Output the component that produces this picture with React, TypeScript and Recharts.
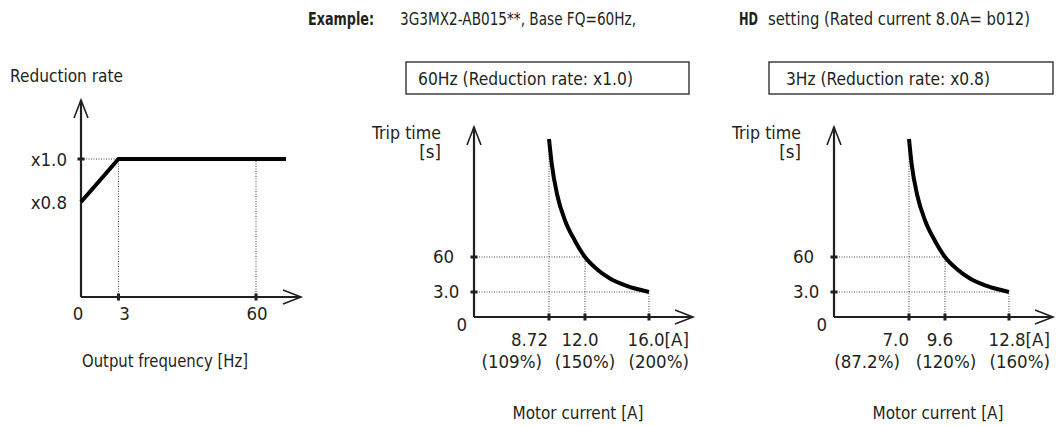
import React from 'react';
import { LineChart, Line, XAxis, YAxis, ReferenceLine } from 'recharts';

// ---------------- data ----------------
const freqHz = [0, 3, 60, 70];
const reductionRate = [0.8, 1.0, 1.0, 1.0];
const freqTicks = [0, 3, 60];
const freqTickLabels = ['0', '3', '60'];
const rateTicks = [0.8, 1.0];
const rateTickLabels = ['x0.8', 'x1.0'];

const current60Hz = [8.72, 8.97, 9.48, 10.18, 11.09, 12.0, 12.73, 13.56, 14.61, 16.0];
const tripTime60Hz = [913, 732, 505, 324, 176, 60, 40.5, 25, 12.8, 3.0];
const current3Hz = [7.0, 7.19, 7.6, 8.16, 8.88, 9.6, 10.19, 10.85, 11.69, 12.8];
const tripTime3Hz = [913, 732, 505, 324, 176, 60, 40.5, 25, 12.8, 3.0];

const tripTicks = [0, 3, 60];
const tripTickLabels = ['0', '3.0', '60'];
const current60Ticks = [8.72, 12.0, 16.0];
const current60TickLabels = ['8.72', '12.0', '16.0[A]'];
const current60PctLabels = ['(109%)', '(150%)', '(200%)'];
const current3Ticks = [7.0, 9.6, 12.8];
const current3TickLabels = ['7.0', '9.6', '12.8[A]'];
const current3PctLabels = ['(87.2%)', '(120%)', '(160%)'];

// ---------------- style ----------------
const FONT = '"DejaVu Sans Condensed", "DejaVu Sans", sans-serif';
const INK = '#231f20';
const DOT = '#4d4d4f';
const FS = 18.5;

// schematic (not-to-scale) piecewise-linear axis scale with a d3-like interface
function schematicScale(knots: number[], fracs: number[]): any {
  let dom: number[] = [knots[0], knots[knots.length - 1]];
  let rng: number[] = [0, 1];
  const toFrac = (v: number) => {
    const n = knots.length;
    for (let i = 1; i < n; i++) {
      if (v <= knots[i] || i === n - 1) {
        const t = (v - knots[i - 1]) / (knots[i] - knots[i - 1]);
        return fracs[i - 1] + t * (fracs[i] - fracs[i - 1]);
      }
    }
    return 1;
  };
  const scale: any = (v: number) => rng[0] + toFrac(Number(v)) * (rng[1] - rng[0]);
  scale.domain = (d?: any) => {
    if (d === undefined) return dom.slice();
    dom = Array.from(d);
    return scale;
  };
  scale.range = (r?: any) => {
    if (r === undefined) return rng.slice();
    rng = Array.from(r);
    return scale;
  };
  scale.copy = () => schematicScale(knots, fracs).domain(dom).range(rng);
  scale.ticks = () => knots.slice();
  scale.tickFormat = () => (v: any) => String(v);
  scale.invert = (px: number) => {
    const f = (px - rng[0]) / (rng[1] - rng[0]);
    for (let i = 1; i < fracs.length; i++) {
      if (f <= fracs[i] || i === fracs.length - 1) {
        const t = (f - fracs[i - 1]) / (fracs[i] - fracs[i - 1]);
        return knots[i - 1] + t * (knots[i] - knots[i - 1]);
      }
    }
    return knots[knots.length - 1];
  };
  return scale;
}

const T = (x: number, y: number, s: string, anchor: string = 'start', extra: any = {}) => (
  <text x={x} y={y} textAnchor={anchor as any} fontFamily={FONT} fontSize={FS} fill={INK} {...extra}>
    {s}
  </text>
);
const fit = (w: number) => ({ textLength: w, lengthAdjust: 'spacingAndGlyphs' });

const AxisArrow = (p: any) => {
  const { x1, y1, x2, y2 } = p;
  const dx = x2 - x1;
  const dy = y2 - y1;
  const len = Math.hypot(dx, dy) || 1;
  const ux = dx / len;
  const uy = dy / len;
  const L = 18;
  const W = 7;
  const bx = x2 - ux * L;
  const by = y2 - uy * L;
  const nx = -uy;
  const ny = ux;
  return (
    <g>
      <line x1={x1} y1={y1} x2={x2} y2={y2} stroke={INK} strokeWidth={2.2} />
      <polyline
        points={`${bx + nx * W},${by + ny * W} ${x2},${y2} ${bx - nx * W},${by - ny * W}`}
        fill="none"
        stroke={INK}
        strokeWidth={1.6}
      />
    </g>
  );
};

const dotted = { stroke: DOT, strokeWidth: 1, strokeDasharray: '1 1.5', ifOverflow: 'visible' as const };

// ---------------- left chart ----------------
function ReductionChart() {
  const data = freqHz.map((f, i) => ({ f, r: reductionRate[i] }));
  const xScale = schematicScale([0, 3, 60, 75], [0, 0.1705, 0.7955, 1]);
  const yScale = schematicScale([0, 0.8, 1.0, 1.3], [0, 0.4822, 0.7005, 1]);
  const xDx = [-3, 6, 1];
  return (
    <div style={{ position: 'absolute', left: 0, top: 40 }}>
      <LineChart width={330} height={386} data={data} margin={{ top: 60, right: 29, bottom: 128, left: 80 }}>
        <XAxis
          type="number"
          dataKey="f"
          domain={[0, 75]}
          scale={xScale}
          ticks={freqTicks}
          interval={0}
          axisLine={false}
          tickLine={false}
          tickSize={0}
          tickMargin={0}
          height={1}
          tick={(p: any) => {
            const i = freqTicks.indexOf(p.payload.value);
            if (i < 0) return <g />;
            return (
              <g>
                {i > 0 && <rect x={p.x - 1.5} y={p.y - 3.5} width={3} height={7} fill={INK} />}
                {T(p.x + xDx[i], p.y + 22.5, freqTickLabels[i], 'middle')}
              </g>
            );
          }}
          label={{
            content: (lp: any) =>
              T(lp.viewBox.x + 1, lp.viewBox.y + 69.5, 'Output frequency [Hz]', 'start', fit(166)),
          }}
        />
        <YAxis
          type="number"
          dataKey="r"
          domain={[0, 1.3]}
          scale={yScale}
          ticks={rateTicks}
          interval={0}
          axisLine={false}
          tickLine={false}
          tickSize={0}
          tickMargin={0}
          width={1}
          tick={(p: any) => {
            const i = rateTicks.indexOf(p.payload.value);
            if (i < 0) return <g />;
            return (
              <g>
                {i === 1 && <rect x={p.x - 3.5} y={p.y - 1.5} width={7} height={3} fill={INK} />}
                {T(p.x - 14, p.y + 6.5, rateTickLabels[i], 'end')}
              </g>
            );
          }}
          label={{
            content: (lp: any) =>
              T(lp.viewBox.x + lp.viewBox.width - 71, lp.viewBox.y - 18.5, 'Reduction rate', 'start', fit(113)),
          }}
        />
        <ReferenceLine segment={[{ x: 0, y: 1.0 }, { x: 3, y: 1.0 }]} {...dotted} />
        <ReferenceLine segment={[{ x: 3, y: 0 }, { x: 3, y: 1.0 }]} {...dotted} />
        <ReferenceLine segment={[{ x: 60, y: 0 }, { x: 60, y: 1.0 }]} {...dotted} />
        <ReferenceLine segment={[{ x: 0, y: 0 }, { x: 75, y: 0 }]} ifOverflow="visible" shape={AxisArrow} />
        <ReferenceLine segment={[{ x: 0, y: 0 }, { x: 0, y: 1.3 }]} ifOverflow="visible" shape={AxisArrow} />
        <Line type="linear" dataKey="r" stroke="#000" strokeWidth={4} dot={false} isAnimationActive={false} />
      </LineChart>
    </div>
  );
}

// ---------------- trip-time charts ----------------
type TripProps = {
  left: number;
  current: number[];
  trip: number[];
  ticks: number[];
  tickLabels: string[];
  pctLabels: string[];
  xMax: number;
  valLayout: [string, number][];
  pctLayout: [string, number][];
};

function TripChart(props: TripProps) {
  const { left, current, trip, ticks, tickLabels, pctLabels, xMax, valLayout, pctLayout } = props;
  const data = current.map((c, i) => ({ c, t: trip[i] }));
  const xScale = schematicScale([0, ticks[0], ticks[1], ticks[2], xMax], [0, 0.3425, 0.5068, 0.7991, 1]);
  const yScale = schematicScale([0, 3, 60, 1000], [0, 0.1316, 0.3158, 1]);
  const w = Math.min(350, 1064 - left);
  return (
    <div style={{ position: 'absolute', left, top: 100 }}>
      <LineChart width={w} height={326} data={data} margin={{ top: 27, right: w - 114 - 219, bottom: 108, left: 113 }}>
        <XAxis
          type="number"
          dataKey="c"
          domain={[0, xMax]}
          scale={xScale}
          ticks={ticks}
          interval={0}
          axisLine={false}
          tickLine={false}
          tickSize={0}
          tickMargin={0}
          height={1}
          tick={(p: any) => {
            const i = ticks.indexOf(p.payload.value);
            if (i < 0) return <g />;
            return (
              <g>
                <rect x={p.x - 1.5} y={p.y - 3.5} width={3} height={7} fill={INK} />
                {T(p.x + valLayout[i][1], p.y + 28.5, tickLabels[i], valLayout[i][0])}
                {T(p.x + pctLayout[i][1], p.y + 51, pctLabels[i], pctLayout[i][0])}
              </g>
            );
          }}
          label={{
            content: (lp: any) =>
              T(lp.viewBox.x + 104, lp.viewBox.y + 102, 'Motor current [A]', 'middle', fit(131)),
          }}
        />
        <YAxis
          type="number"
          dataKey="t"
          domain={[0, 1000]}
          scale={yScale}
          ticks={tripTicks}
          interval={0}
          axisLine={false}
          tickLine={false}
          tickSize={0}
          tickMargin={0}
          width={1}
          tick={(p: any) => {
            const i = tripTicks.indexOf(p.payload.value);
            if (i < 0) return <g />;
            if (i === 0) return T(p.x - 7, p.y + 13.5, tripTickLabels[i], 'end');
            return (
              <g>
                <rect x={p.x - 3.5} y={p.y - 1.5} width={7} height={3} fill={INK} />
                {T(p.x - 41, p.y + 6.5, tripTickLabels[i], 'start')}
              </g>
            );
          }}
          label={{
            content: (lp: any) => {
              const px = lp.viewBox.x + lp.viewBox.width;
              return (
                <g>
                  {T(px - 33, lp.viewBox.y + 11.5, 'Trip time', 'end', fit(69))}
                  {T(px - 33, lp.viewBox.y + 30.5, '[s]', 'end')}
                </g>
              );
            },
          }}
        />
        <ReferenceLine segment={[{ x: 0, y: tripTicks[2] }, { x: ticks[1], y: tripTicks[2] }]} {...dotted} />
        <ReferenceLine segment={[{ x: 0, y: tripTicks[1] }, { x: ticks[2], y: tripTicks[1] }]} {...dotted} />
        <ReferenceLine segment={[{ x: ticks[0], y: 0 }, { x: ticks[0], y: trip[0] }]} {...dotted} />
        <ReferenceLine segment={[{ x: ticks[1], y: 0 }, { x: ticks[1], y: tripTicks[2] }]} {...dotted} />
        <ReferenceLine segment={[{ x: ticks[2], y: 0 }, { x: ticks[2], y: tripTicks[1] }]} {...dotted} />
        <ReferenceLine segment={[{ x: 0, y: 0 }, { x: xMax, y: 0 }]} ifOverflow="visible" shape={AxisArrow} />
        <ReferenceLine segment={[{ x: 0, y: 0 }, { x: 0, y: 1000 }]} ifOverflow="visible" shape={AxisArrow} />
        <Line type="monotone" dataKey="t" stroke="#000" strokeWidth={4} dot={false} isAnimationActive={false} />
      </LineChart>
    </div>
  );
}

function Header() {
  return (
    <svg width={1064} height={100} style={{ position: 'absolute', left: 0, top: 0 }}>
      {T(308, 24.5, 'Example:', 'start', { fontWeight: 'bold', ...fit(66) })}
      {T(400, 24.5, '3G3MX2-AB015**, Base FQ=60Hz,', 'start', fit(236))}
      {T(739, 24.5, 'HD', 'start', { fontWeight: 'bold', ...fit(19) })}
      {T(768, 24.5, 'setting (Rated current 8.0A= b012)', 'start', fit(262))}
      <rect x={406} y={62} width={283} height={32} fill="none" stroke={INK} strokeWidth={1.3} />
      {T(418, 84.5, '60Hz (Reduction rate: x1.0)', 'start', fit(215))}
      <rect x={769} y={62} width={284} height={32} fill="none" stroke={INK} strokeWidth={1.3} />
      {T(786, 84.5, '3Hz (Reduction rate: x0.8)', 'start', fit(204))}
    </svg>
  );
}

export default function App() {
  return (
    <div
      style={{
        position: 'absolute',
        left: 0,
        top: 0,
        width: 1064,
        height: 426,
        background: '#fff',
        fontFamily: FONT,
        overflow: 'hidden',
      }}
    >
      <ReductionChart />
      <TripChart
        left={360}
        current={current60Hz}
        trip={tripTime60Hz}
        ticks={current60Ticks}
        tickLabels={current60TickLabels}
        pctLabels={current60PctLabels}
        xMax={18}
        valLayout={[['end', -1], ['middle', -5], ['end', 40]]}
        pctLayout={[['end', -7], ['middle', 0], ['end', 40]]}
      />
      <TripChart
        left={720}
        current={current3Hz}
        trip={tripTime3Hz}
        ticks={current3Ticks}
        tickLabels={current3TickLabels}
        pctLabels={current3PctLabels}
        xMax={14.4}
        valLayout={[['end', 0], ['middle', -5], ['end', 41]]}
        pctLayout={[['end', -9], ['middle', 1], ['end', 41]]}
      />
      <Header />
    </div>
  );
}
